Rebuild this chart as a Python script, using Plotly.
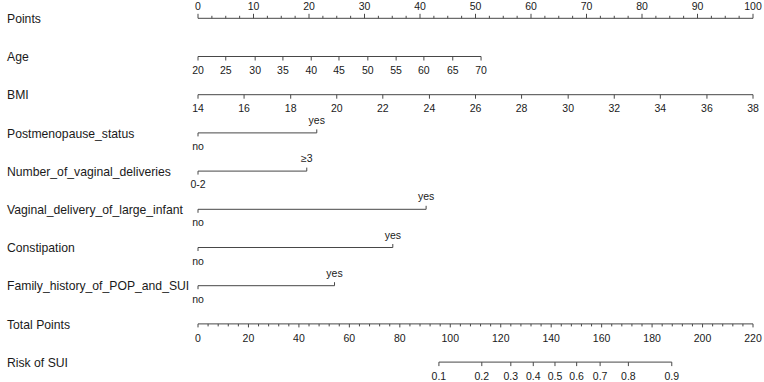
import plotly.graph_objects as go

# ---------------- data ----------------
var_names = ["Points", "Age", "BMI", "Postmenopause_status",
             "Number_of_vaginal_deliveries", "Vaginal_delivery_of_large_infant",
             "Constipation", "Family_history_of_POP_and_SUI", "Total Points", "Risk of SUI"]

points_ticks = [0, 10, 20, 30, 40, 50, 60, 70, 80, 90, 100]

age_labels = ["20", "25", "30", "35", "40", "45", "50", "55", "60", "65", "70"]
age_points = [0, 5.0, 10.3, 15.3, 20.4, 25.4, 30.6, 35.7, 40.7, 45.9, 51.0]

bmi_labels = ["14", "16", "18", "20", "22", "24", "26", "28", "30", "32", "34", "36", "38"]
bmi_points = [0, 8.3, 16.7, 25.0, 33.3, 41.7, 50.0, 58.3, 66.7, 75.0, 83.3, 91.7, 100]

post_labels = ["no", "yes"]
post_points = [0, 21.4]

deliv_labels = ["0-2", "≥3"]
deliv_points = [0, 19.6]

large_labels = ["no", "yes"]
large_points = [0, 41.1]

const_labels = ["no", "yes"]
const_points = [0, 35.1]

family_labels = ["no", "yes"]
family_points = [0, 24.6]

total_ticks = [0, 20, 40, 60, 80, 100, 120, 140, 160, 180, 200, 220]
total_max = 220

risk_labels = ["0.1", "0.2", "0.3", "0.4", "0.5", "0.6", "0.7", "0.8", "0.9"]
risk_total_points = [95.5, 112.5, 124.0, 132.9, 141.5, 150.1, 159.4, 170.6, 187.8]

# ---------------- layout helpers ----------------
W, H = 764, 382
X0_PX, X100_PX = 198, 753
PX_PER_PT = (X100_PX - X0_PX) / 100.0
xmin = -X0_PX / PX_PER_PT
xmax = xmin + W / PX_PER_PT
row_y = [18.3 + 38.2 * i for i in range(10)]

LINE_COL = "#474747"
TXT_COL = "#1a1a1a"
FONT = "Liberation Sans, Arial, sans-serif"
TICK_FS = 10.5
NAME_FS = 12.2

fig = go.Figure()


def add_axis(y, xs, labels, direction, ticklen=4.0, minor=None, minorlen=2.5):
    """direction: +1 ticks go up (labels above), -1 ticks go down (labels below)."""
    lx, ly = [min(xs), max(xs)], [y, y]
    tx, ty = [], []
    for x in xs:
        tx += [x, x, None]
        ty += [y, y - direction * ticklen, None]
    if minor:
        for x in minor:
            tx += [x, x, None]
            ty += [y, y - direction * minorlen, None]
    fig.add_trace(go.Scatter(x=lx + [None] + tx, y=ly + [None] + ty, mode="lines",
                             line=dict(color=LINE_COL, width=1), hoverinfo="skip",
                             showlegend=False, cliponaxis=False))
    if labels is not None:
        off = -11.3 if direction > 0 else 15
        fig.add_trace(go.Scatter(x=xs, y=[y + off] * len(xs), mode="text", text=labels,
                                 textposition="middle center", cliponaxis=False,
                                 textfont=dict(size=TICK_FS, color=TXT_COL, family=FONT),
                                 hoverinfo="skip", showlegend=False))


def add_categorical(y, pts, labels):
    # first label below (tick down), second above (tick up)
    fig.add_trace(go.Scatter(x=[pts[0], pts[-1], None, pts[0], pts[0], None, pts[-1], pts[-1]],
                             y=[y, y, None, y, y + 3.5, None, y, y - 3.5],
                             mode="lines", line=dict(color=LINE_COL, width=1),
                             hoverinfo="skip", showlegend=False, cliponaxis=False))
    fig.add_trace(go.Scatter(x=[pts[0]], y=[y + 14.5], mode="text", text=[labels[0]],
                             textposition="middle center", cliponaxis=False,
                             textfont=dict(size=TICK_FS, color=TXT_COL, family=FONT),
                             hoverinfo="skip", showlegend=False))
    fig.add_trace(go.Scatter(x=[pts[-1]], y=[y - 11.5], mode="text", text=[labels[-1]],
                             textposition="middle center", cliponaxis=False,
                             textfont=dict(size=TICK_FS, color=TXT_COL, family=FONT),
                             hoverinfo="skip", showlegend=False))


# Points axis (labels above, minor ticks every 2.5)
minor_pts = [i * 2.5 for i in range(41) if (i * 2.5) % 10 != 0]
add_axis(row_y[0], points_ticks, [str(v) for v in points_ticks], +1, ticklen=4.5,
         minor=minor_pts, minorlen=2.5)

# Age, BMI
add_axis(row_y[1], age_points, age_labels, -1, ticklen=4)
add_axis(row_y[2], bmi_points, bmi_labels, -1, ticklen=4)

# categorical
add_categorical(row_y[3], post_points, post_labels)
add_categorical(row_y[4], deliv_points, deliv_labels)
add_categorical(row_y[5], large_points, large_labels)
add_categorical(row_y[6], const_points, const_labels)
add_categorical(row_y[7], family_points, family_labels)

# Total points axis
tp_scale = 100.0 / total_max
tot_x = [v * tp_scale for v in total_ticks]
minor_tot = [v * tp_scale for v in range(0, total_max + 1, 4) if v % 20 != 0]
add_axis(row_y[8], tot_x, [str(v) for v in total_ticks], -1, ticklen=3.5,
         minor=minor_tot, minorlen=2.5)

# Risk axis
risk_x = [v * tp_scale for v in risk_total_points]
add_axis(row_y[9], risk_x, risk_labels, -1, ticklen=4)

# variable names
for name, y in zip(var_names, row_y):
    fig.add_annotation(x=5 / W, xref="paper", y=y + 0.7, yref="y", text=name,
                       showarrow=False, xanchor="left", yanchor="middle",
                       font=dict(size=NAME_FS, color=TXT_COL, family=FONT))

fig.update_layout(
    width=W, height=H,
    margin=dict(l=0, r=0, t=0, b=0),
    paper_bgcolor="white", plot_bgcolor="white",
    xaxis=dict(range=[xmin, xmax], visible=False, fixedrange=True),
    yaxis=dict(range=[H, 0], visible=False, fixedrange=True),
    showlegend=False,
)

fig.write_html("out.html",
               config={"displayModeBar": False, "staticPlot": True},
               post_script="document.body.style.margin='0';document.body.style.padding='0';"
                           "document.body.style.overflow='hidden';")
